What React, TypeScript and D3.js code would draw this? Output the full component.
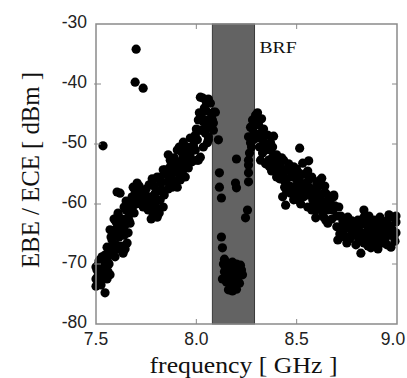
import * as d3 from "d3";
import React from "react";

const lowSide: [number, number][] = [
  [7.505, -71], [7.52, -69.3], [7.535, -70.5], [7.555, -69], [7.56, -71.3], [7.505, -72.3], [7.5, -73.7], [7.545, -74.8],
  [7.53, -72.2], [7.57, -71.8], [7.51, -70.2], [7.545, -72.2], [7.535, -69.7], [7.515, -71.8], [7.525, -70], [7.55, -70.8],
  [7.54, -71.5], [7.51, -73], [7.565, -70], [7.52, -72.8], [7.5, -72.5], [7.53, -68.8], [7.545, -68.5],
  [7.5, -70.5], [7.515, -69.5], [7.525, -73.5], [7.555, -72.5], [7.54, -69.2], [7.56, -69.8],
  [7.555, -67.2], [7.58, -66], [7.595, -64.3], [7.62, -63.8], [7.66, -64.8], [7.655, -66.5], [7.635, -68.2], [7.595, -68.8],
  [7.57, -67.3], [7.61, -61.5], [7.62, -58.2], [7.66, -62.2], [7.68, -60.7], [7.685, -59.8], [7.705, -58.8], [7.67, -63.2],
  [7.645, -63.5], [7.575, -65.5], [7.6, -66.8], [7.625, -67], [7.64, -65.2], [7.615, -65.5], [7.65, -61], [7.58, -68.2],
  [7.565, -68.5], [7.605, -58], [7.61, -61.8],
  [7.585, -64.8], [7.6, -63], [7.63, -62.5], [7.64, -60.5], [7.65, -59.5], [7.61, -67.5], [7.63, -64.5], [7.645, -67.5],
  [7.665, -62.8], [7.675, -59.5], [7.69, -61.5], [7.7, -60], [7.695, -57.8], [7.57, -64.3], [7.59, -62.5],
  [7.66, -60.2], [7.68, -58.8], [7.685, -57.2], [7.705, -56.5], [7.67, -61.5], [7.72, -58.2], [7.745, -59.3], [7.76, -61],
  [7.785, -61.8], [7.805, -60.7], [7.82, -59.3], [7.83, -57.7], [7.795, -58.2], [7.77, -58.8], [7.735, -60.5], [7.78, -59.8],
  [7.805, -62.2], [7.835, -60.5], [7.75, -57.5], [7.79, -60.5], [7.78, -55.8], [7.82, -55.5], [7.845, -54.3], [7.87, -53.8],
  [7.885, -56], [7.905, -57.2], [7.88, -57.2], [7.92, -55.5], [7.935, -54.3], [7.855, -56.3], [7.86, -51.8], [7.935, -52.2],
  [7.97, -51.5], [8.005, -52.7], [7.955, -53.2], [7.995, -51], [7.9, -54.5], [7.86, -55],
  [7.715, -57], [7.725, -59.5], [7.74, -58], [7.755, -60], [7.765, -56.8], [7.775, -62.5], [7.79, -57], [7.8, -59.5],
  [7.81, -57.8], [7.815, -61.5], [7.825, -56.5], [7.84, -58.5], [7.85, -55], [7.86, -57.5], [7.875, -55.2], [7.89, -54.5],
  [7.895, -56.5], [7.91, -53], [7.92, -53.5], [7.945, -55.5], [7.955, -51.8], [7.96, -54], [7.975, -53], [7.985, -52.8],
  [8.03, -42.3], [8.07, -43.2], [8.095, -44.7], [8.08, -46], [8.035, -46.3], [8.055, -47.2], [8.02, -47.7], [7.995, -48.5],
  [7.97, -49], [7.935, -49.7], [7.955, -50.5], [7.985, -50.2], [8.005, -49.3], [8.06, -49.3], [8.085, -47.7], [7.905, -51],
  [7.93, -51.5], [7.87, -52.7], [7.835, -54.3], [7.805, -55.5], [7.785, -56], [7.895, -53.5], [7.91, -54.8], [7.935, -52.7],
  [7.97, -52.2], [7.865, -56], [7.92, -56], [8.01, -52.7],
  [8.02, -42.2], [8.085, -44.7], [8.045, -46], [8.085, -46.5], [8.03, -47.7], [8.06, -48.8], [8.035, -50.5], [8.02, -52.2],
  [8.055, -49.8], [8.075, -45.5], [8.05, -44.5],
  [7.99, -49.5], [8.0, -47.5], [8.01, -46], [8.015, -44.8], [8.025, -45.5], [8.04, -44], [8.05, -43], [8.06, -42.5],
  [8.045, -48.2], [8.065, -46.5], [7.98, -50.8], [7.945, -50.8], [7.915, -50.5], [7.89, -52.3],
];

const inBand: [number, number][] = [
  [8.11, -49.3], [8.2, -52.5], [8.115, -54.8], [8.115, -57.2], [8.125, -59], [8.2, -57.3], [8.195, -56.5], [8.255, -61],
  [8.245, -62.3], [8.125, -65.5], [8.13, -67.3],
  [8.135, -70], [8.155, -69.8], [8.18, -69.7], [8.2, -70], [8.22, -70.2], [8.14, -71.3], [8.16, -71.5], [8.185, -71],
  [8.21, -71.5], [8.23, -71.8], [8.13, -72.5], [8.15, -73], [8.17, -72.7], [8.195, -72.8], [8.215, -73.2], [8.16, -74.3],
  [8.18, -74.5], [8.2, -74.2], [8.175, -73.5], [8.14, -69.2],
  [8.145, -70.5], [8.165, -70.5], [8.19, -72], [8.205, -72.3], [8.225, -71], [8.17, -73.8], [8.155, -72.2],
  [8.295, -45.2], [8.28, -46], [8.27, -47.2], [8.29, -48.2], [8.26, -48.8], [8.285, -49.3], [8.27, -49.8], [8.265, -51.5],
  [8.26, -52.7], [8.26, -53.5], [8.26, -54.8], [8.26, -56.3], [8.275, -50.5], [8.28, -47.5],
];

const highSide: [number, number][] = [
  [8.31, -46.8], [8.33, -49.3], [8.345, -51], [8.36, -52.7], [8.32, -52.7], [8.37, -49.8], [8.385, -48.7], [8.305, -44.8],
  [8.3, -46.5], [8.32, -48.2], [8.34, -49.8], [8.35, -50.2], [8.37, -51], [8.33, -51.5], [8.38, -52.2], [8.365, -53.8],
  [8.39, -53.5], [8.405, -54.3],
  [8.305, -49], [8.315, -50.5], [8.325, -45.8], [8.335, -47.5], [8.355, -48.5], [8.345, -53.3], [8.36, -50.8], [8.375, -54.5],
  [8.38, -50.5], [8.4, -51.8], [8.41, -53], [8.415, -55.8], [8.425, -52.3], [8.43, -55], [8.44, -57.2], [8.45, -55.8],
  [8.46, -53.3], [8.465, -57], [8.475, -54.3], [8.49, -55.2], [8.495, -57.8], [8.5, -54.2], [8.51, -57.3], [8.52, -55.2],
  [8.525, -58], [8.53, -53.2], [8.545, -56.5], [8.55, -58.5], [8.555, -54.5], [8.565, -57.3], [8.575, -55.5], [8.58, -60.3],
  [8.59, -58], [8.6, -59.5], [8.61, -56.2], [8.615, -58.5], [8.625, -60.3], [8.64, -57], [8.645, -59.7], [8.66, -58.7],
  [8.67, -60], [8.675, -62.5], [8.69, -60.3], [8.7, -62], [8.71, -60.5], [8.7, -63.8],
  [8.42, -53.8], [8.455, -54.3], [8.435, -56], [8.47, -55.5], [8.485, -53.8], [8.51, -54.8], [8.48, -57.2], [8.52, -56.5],
  [8.535, -57.7], [8.505, -58.8], [8.56, -56], [8.57, -58.2], [8.585, -59.3], [8.605, -57.2], [8.62, -59.3], [8.645, -58.2],
  [8.655, -60.5], [8.445, -60.2], [8.515, -50.7], [8.56, -52.8], [8.625, -55.7], [8.395, -52.2], [8.435, -52.7], [8.485, -59.3],
  [8.4, -55.5], [8.45, -58], [8.5, -56], [8.54, -55], [8.6, -56.5], [8.575, -61], [8.52, -60], [8.63, -61.5],
  [8.43, -58.8], [8.47, -58.2], [8.505, -59.3], [8.535, -58.8], [8.555, -60.5], [8.58, -59.3], [8.595, -61], [8.595, -62.3],
  [8.635, -62.2], [8.655, -63.2], [8.68, -61], [8.685, -58.8], [8.705, -66], [8.72, -63.8], [8.755, -63.2], [8.78, -64.3],
  [8.805, -62.7], [8.82, -64.8], [8.82, -68.2], [8.855, -63.8], [8.86, -66], [8.885, -62.7], [8.905, -64.8], [8.93, -66.5],
  [8.955, -64.3], [8.98, -62.2], [8.995, -64.8], [8.97, -67.2], [8.835, -61], [8.755, -65.5], [8.795, -66.8], [8.87, -67.3],
  [8.62, -56], [8.585, -57.7], [8.635, -58.2], [8.685, -58.5], [8.605, -60.5], [8.655, -61], [8.645, -62.7], [8.72, -62],
  [8.755, -62.2], [8.785, -63.2], [8.835, -62.2], [8.915, -62.2], [8.995, -63], [8.735, -64.3], [8.77, -64.3], [8.805, -64.3],
  [8.84, -64.8], [8.895, -65.2], [8.945, -63.5], [8.92, -64.3], [8.87, -64.5], [8.835, -66.5], [8.905, -67.5], [8.95, -66.8],
  [8.985, -65.5], [8.715, -65], [8.75, -66.5], [8.86, -62], [8.96, -61.8],
  [8.73, -62.8], [8.74, -65.5], [8.76, -63.8], [8.765, -65.8], [8.775, -62.8], [8.79, -65.2], [8.8, -63.8], [8.81, -66],
  [8.815, -63.5], [8.825, -65.5], [8.83, -63.3], [8.845, -63.2], [8.85, -65.2], [8.855, -67], [8.865, -63.2], [8.875, -65.8],
  [8.88, -64], [8.89, -66.5], [8.9, -63.5], [8.91, -65.8], [8.925, -63.2], [8.935, -64.8], [8.94, -66], [8.95, -62.8],
  [8.96, -65.2], [8.965, -63.7], [8.975, -64.2], [8.99, -66.2], [8.995, -62],
];

const outliers: [number, number][] = [[7.7, -34.2], [7.695, -39.7], [7.735, -40.7], [7.535, -50.3]];

const bandGHz: [number, number] = [8.08, 8.29];
const xTicks: number[] = [7.5, 8.0, 8.5, 9.0];
const yTicks: number[] = [-30, -40, -50, -60, -70, -80];

const W = 407, H = 378;
const m = { l: 96, r: 10, t: 24, b: 54 };

export default function App() {
  const x = d3.scaleLinear([7.5, 9.0], [m.l, W - m.r]);
  const y = d3.scaleLinear([-80, -30], [H - m.b, m.t]);
  const axisColor = "#8a8a8a";
  const tk = 5;
  const pts = [...lowSide, ...inBand, ...highSide, ...outliers];

  return (
    <svg width={W} height={H} style={{ position: "absolute", left: 0, top: 0, background: "#fff" }}>
      <rect x={x(bandGHz[0])} y={m.t} width={x(bandGHz[1]) - x(bandGHz[0])} height={H - m.b - m.t}
        fill="#636363" stroke="#3a3a3a" strokeWidth={1} />
      <text x={x(8.315)} y={y(-34.8)} fontFamily="Liberation Serif" fontSize={17} fill="#111"
        textLength={37} lengthAdjust="spacingAndGlyphs">BRF</text>

      <g fill="#000">
        {pts.map((d, i) => <circle key={i} cx={x(d[0])} cy={y(d[1])} r={4.6} />)}
      </g>

      <rect x={m.l} y={m.t} width={W - m.r - m.l} height={H - m.b - m.t} fill="none" stroke={axisColor} strokeWidth={1.5} />
      <g stroke={axisColor} strokeWidth={1}>
        {xTicks.slice(1, -1).map(t => (
          <g key={"x" + t}>
            <line x1={x(t)} x2={x(t)} y1={H - m.b} y2={H - m.b - tk} />
            <line x1={x(t)} x2={x(t)} y1={m.t} y2={m.t + tk} />
          </g>
        ))}
        {yTicks.slice(1, -1).map(t => (
          <g key={"y" + t}>
            <line x1={m.l - 2} x2={m.l + tk} y1={y(t)} y2={y(t)} />
            <line x1={W - m.r} x2={W - m.r - tk} y1={y(t)} y2={y(t)} />
          </g>
        ))}
      </g>

      <g fontFamily="Liberation Sans, Arial" fontSize={17.5} fill="#222">
        {yTicks.map(t => (
          <text key={"yl" + t} x={m.l - 9} y={y(t) - 2} textAnchor="end" dominantBaseline="central">{t}</text>
        ))}
        {xTicks.map(t => (
          <text key={"xl" + t} x={Math.min(x(t), W - 14)} y={H - m.b + 21} textAnchor="middle">{d3.format(".1f")(t)}</text>
        ))}
      </g>

      <text x={(m.l + W - m.r) / 2 - 3} y={373} textAnchor="middle" fontFamily="Liberation Serif" fontSize={23}
        fill="#111" textLength={188} lengthAdjust="spacingAndGlyphs">frequency [ GHz ]</text>
      <text transform={`translate(39, 170) rotate(-90)`} textAnchor="middle" fontFamily="Liberation Serif" fontSize={25}
        fill="#111" textLength={196} lengthAdjust="spacingAndGlyphs">EBE / ECE [ dBm ]</text>
    </svg>
  );
}
